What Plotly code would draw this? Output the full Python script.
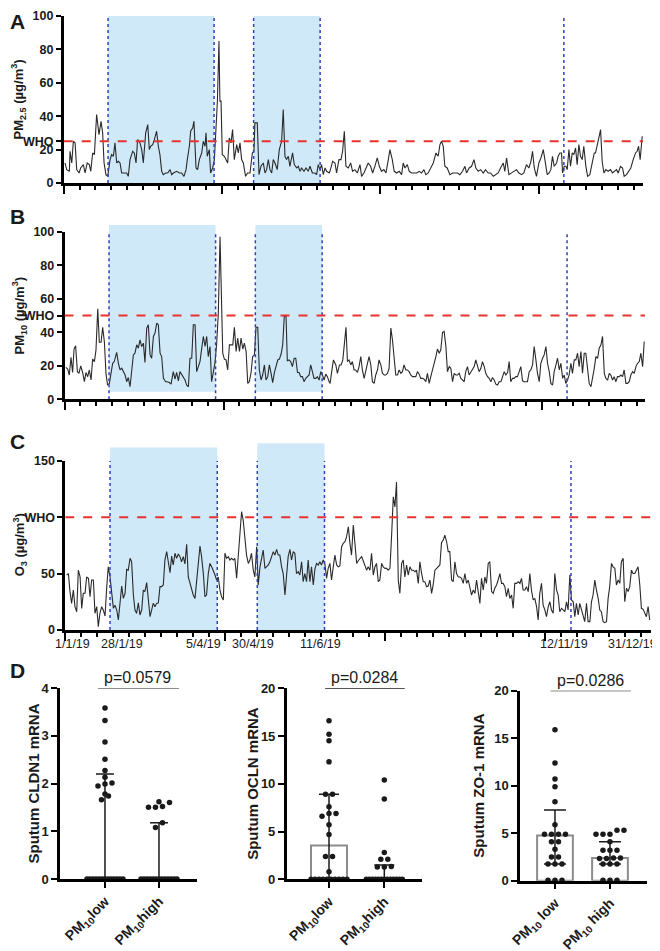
import numpy as np
import plotly.graph_objects as go


################################
######## DATA ########
################################

#### daily air quality 2019 (day of year, 1 = 1/1/19)
pm25_day = [
    0.8, 1.9, 3.6, 4.0, 5.1, 6.1, 7.2, 8.2, 9.7, 10.7,
    12.4, 13.5, 14.9, 16.2, 17.1, 18.3, 19.4, 20.8, 22.3, 23.6,
    24.6, 25.5, 26.7, 27.8, 29.3, 30.3, 31.4, 32.4, 33.5, 34.5,
    35.6, 36.6, 38.1, 39.8, 40.8, 41.9, 43.6, 44.6, 45.7, 46.7,
    48.2, 49.3, 50.3, 51.8, 53.1, 54.1, 54.9, 56.2, 57.3, 58.7,
    59.8, 60.8, 61.9, 62.9, 64.4, 65.7, 67.2, 68.2, 69.3, 71.4,
    73.1, 74.5, 76.0, 77.3, 78.1, 79.4, 80.2, 81.5, 82.3, 83.6,
    84.6, 85.7, 87.2, 88.2, 89.3, 89.9, 90.7, 92.0, 92.8, 94.1,
    95.2, 96.2, 97.1, 98.1, 98.7, 99.4, 100.2, 101.5, 102.5, 103.6,
    104.6, 105.7, 106.7, 107.8, 109.3, 110.3, 111.4, 112.4, 113.5, 114.9,
    116.2, 117.7, 119.2, 120.2, 120.8, 122.3, 123.4, 124.6, 126.1, 127.2,
    128.2, 129.3, 130.3, 131.4, 132.4, 133.5, 134.9, 136.2, 137.7, 138.7,
    139.8, 140.8, 141.9, 142.9, 144.6, 145.7, 147.2, 148.2, 149.3, 150.3,
    151.8, 153.1, 154.5, 155.6, 157.1, 158.7, 159.8, 160.8, 161.9, 162.9,
    164.0, 165.1, 166.1, 167.8,
    168.2, 169.9, 171.4, 172.4, 173.9, 175.2, 176.2, 177.3, 178.3, 179.8,
    181.3, 182.5, 184.0, 185.5, 187.2, 188.2, 189.7, 191.0, 192.4, 193.9,
    195.2, 196.6, 198.1, 199.4, 200.8, 202.3, 203.6, 205.1, 206.1, 207.6,
    208.8, 210.3, 212.0, 213.5, 214.5, 215.6, 217.1, 218.3, 219.8, 221.3,
    223.0, 224.6, 226.1, 227.6, 228.8, 230.3, 231.8, 233.5, 235.2, 236.6,
    237.7, 238.7, 239.8, 240.8, 242.3, 244.0, 245.7, 247.2, 248.8, 250.3,
    252.0, 253.5, 254.5, 256.2, 257.7, 259.2, 260.4, 261.9, 263.4, 265.1,
    266.5, 268.2, 269.7, 271.4, 272.8, 274.5, 276.0, 277.7, 278.7, 279.8,
    281.3, 283.0, 284.4, 286.1, 287.6, 289.3, 290.7, 292.4, 293.9, 295.2,
    296.2, 297.3, 298.7, 300.2, 301.5, 303.0, 304.0, 305.5, 306.7, 307.8,
    308.8, 309.9, 311.4, 312.4, 313.5, 314.5, 315.2, 316.2, 317.3, 318.1,
    319.2, 320.2, 321.3, 322.3, 323.4, 324.4, 325.5, 326.5, 327.6, 328.6,
    329.9, 331.0, 332.4, 333.9, 335.2, 336.0, 337.1, 338.1, 339.2, 340.2,
    341.3, 342.5, 344.0, 345.5, 346.7, 348.2, 349.3, 350.3, 351.8, 353.1,
    354.1, 355.6, 357.1, 358.3, 359.8, 361.3, 362.3, 363.2, 364.2, 365.5,
]
pm25_val = [
    12, 8, 7, 19, 12, 25, 24, 8, 6, 9,
    11, 6, 12, 11, 7, 18, 17, 41, 29, 37,
    30, 12, 5, 4, 14, 17, 16, 24, 12, 13,
    12, 6, 6, 6, 4, 14, 19, 18, 12, 26,
    24, 20, 12, 30, 35, 20, 22, 23, 26, 31,
    22, 17, 7, 5, 6, 6, 8, 5, 6, 7,
    6, 6, 4, 8, 14, 22, 31, 33, 37, 9,
    8, 14, 18, 25, 22, 30, 16, 20, 6, 9,
    14, 31, 49, 85, 49, 49, 17, 16, 14, 12,
    27, 24, 32, 14, 23, 18, 24, 14, 12, 4,
    6, 6, 18, 19, 36, 36, 5, 10, 12, 6,
    8, 14, 8, 6, 14, 12, 8, 20, 25, 44,
    16, 14, 16, 10, 18, 11, 9, 10, 7, 9,
    7, 9, 7, 10, 6, 6, 5, 11, 8, 11,
    5, 9, 7, 6,
    7, 13, 12, 6, 14, 14, 19, 31, 10, 9,
    12, 7, 8, 6, 11, 4, 6, 9, 12, 10,
    6, 10, 15, 10, 7, 8, 6, 14, 20, 14,
    7, 6, 7, 5, 12, 9, 11, 7, 6, 6,
    6, 7, 6, 8, 5, 6, 9, 12, 18, 16,
    23, 25, 22, 10, 9, 5, 6, 6, 6, 5,
    7, 10, 6, 9, 10, 14, 9, 7, 8, 6,
    8, 6, 6, 4, 5, 6, 9, 12, 7, 15,
    5, 6, 7, 8, 6, 5, 6, 11, 9, 13,
    19, 9, 4, 12, 15, 20, 14, 5, 6, 8,
    16, 10, 12, 16, 18, 18, 6, 10, 10, 8,
    20, 10, 18, 17, 21, 11, 23, 16, 14, 22,
    10, 4, 5, 11, 18, 18, 24, 27, 32, 13,
    6, 8, 7, 8, 6, 7, 8, 6, 10, 9,
    4, 5, 7, 9, 14, 18, 19, 22, 14, 28,
]

pm10_day = [
    0.9, 2.0, 3.0, 4.1, 5.1, 6.0, 7.0, 8.1, 9.1, 10.2,
    11.4, 12.5, 13.5, 14.6, 15.6, 16.7, 17.7, 18.8, 19.8, 20.9,
    21.9, 23.0, 24.0, 25.1, 26.1, 27.1, 28.2, 29.2, 30.3, 31.3,
    32.8, 33.9, 34.9, 36.0, 37.0, 38.1, 39.1, 40.1, 41.2, 42.2,
    43.3, 44.3, 45.4, 46.4, 47.5, 48.5, 49.6, 50.6, 51.7, 52.7,
    53.8, 54.8, 55.9, 56.9, 58.0, 59.0, 60.1, 61.1, 62.2, 63.6,
    64.7, 65.9, 67.0, 68.4, 69.5, 70.5, 71.6, 72.6, 73.7, 74.7,
    75.8, 76.8, 77.9, 78.9, 80.0, 81.0, 82.1, 83.1, 84.2, 85.2,
    86.3, 87.3, 88.4, 89.4, 90.4, 91.5, 92.5, 93.6, 94.6, 95.7,
    96.7, 97.8, 98.8, 99.5, 100.5, 101.6, 102.6, 103.7, 104.7, 105.8,
    106.8, 107.9, 108.9, 110.0, 111.0, 112.1, 113.1, 114.2, 115.2, 116.2,
    117.3, 118.3, 119.4, 120.4, 121.5, 122.5, 123.6, 124.6, 125.7, 126.7,
    127.8, 128.8, 129.9, 130.9, 132.0, 133.0, 134.1, 135.1, 136.2, 137.2,
    138.2, 139.3, 140.1, 141.2, 142.2, 143.3, 144.4, 145.4, 146.5, 147.5,
    148.5, 149.6, 150.6, 151.7, 152.7, 153.8, 154.8, 155.9, 156.9, 158.0,
    159.0, 160.1, 161.1, 162.2, 163.2, 164.3, 165.3, 166.4,
    167.0, 168.0, 169.1, 170.6, 171.6, 172.9, 173.9, 175.0, 176.0, 177.0,
    177.9, 178.9, 180.0, 181.0, 182.1, 183.1, 184.2, 185.2, 186.3, 187.3,
    188.4, 189.4, 190.5, 191.5, 192.6, 193.6, 194.7, 195.7, 196.8, 197.8,
    198.9, 199.9, 201.0, 202.0, 203.1, 204.1, 205.2, 206.2, 207.3, 208.3,
    209.4, 210.4, 211.5, 212.5, 213.5, 214.6, 215.6, 216.7, 217.7, 218.8,
    219.8, 220.9, 221.9, 223.0, 224.0, 225.1, 226.1, 227.2, 228.2, 229.3,
    230.3, 231.4, 232.4, 233.5, 234.5, 235.6, 236.6, 237.7, 238.7, 239.8,
    240.8, 241.9, 242.9, 244.0, 245.0, 246.1, 247.1, 248.2, 249.2, 250.3,
    251.3, 252.3, 253.4, 254.4, 255.5, 256.5, 257.6, 258.6, 259.7, 260.7,
    261.8, 262.8, 263.9, 264.9, 266.0, 267.0, 268.1, 269.1, 270.2, 271.2,
    272.3, 273.3, 274.4, 275.4, 276.5, 277.5, 278.6, 279.6, 280.6, 281.7,
    282.7, 283.8, 284.8, 285.9, 286.9, 288.0, 289.0, 290.1, 291.1, 292.2,
    293.2, 294.3, 295.3, 296.4, 297.4, 298.5, 299.5, 300.6, 301.6, 302.7,
    303.7, 304.8, 305.8, 306.9, 307.9, 309.0, 310.0, 311.1, 312.1, 313.2,
    314.2, 315.2, 316.3, 317.3, 318.4, 319.4, 320.5, 321.5, 322.6, 323.6,
    324.7, 325.7, 326.8, 327.8, 328.9, 329.9, 331.0, 332.0, 333.1, 334.1,
    335.2, 336.2, 337.3, 338.3, 339.4, 340.4, 341.5, 342.5, 343.5, 344.6,
    345.6, 346.7, 347.7, 348.8, 349.8, 350.9, 351.9, 353.0, 354.0, 355.1,
    356.1, 357.2, 358.2, 359.3, 360.3, 361.4, 362.4, 363.5, 364.5,
]
pm10_val = [
    19, 18, 14.5, 25, 16, 30, 32, 16.5, 15.5, 20,
    16, 10.5, 16, 13.5, 17.5, 11.5, 24, 22.5, 29.5, 54,
    34, 34, 43, 34, 15, 8.5, 9.5, 16.5, 21.5, 22.5,
    28, 21.5, 17.5, 18.5, 16, 14.5, 10.5, 13, 7.5, 16.5,
    26.5, 27.5, 32.5, 30.5, 35.5, 31.5, 33.5, 22, 42.5, 44.5,
    26.5, 24.5, 37.5, 39.5, 45.5, 44.5, 27.5, 25.5, 12.5, 10.5,
    10.5, 10, 9, 16.5, 12, 16, 11, 16.5, 14.5, 13.5,
    11.5, 8.5, 7.5, 24.5, 24.5, 44.5, 44.5, 16.5, 19.5, 22.5,
    30.5, 37.5, 31.5, 37.5, 25.5, 31.5, 10.5, 16.5, 21.5, 33.5,
    51, 97, 59, 27.5, 24, 23.5, 17.5, 32.5, 32.5, 32.5,
    43, 28.5, 36.5, 28.5, 36.5, 30, 33.5, 28.5, 9.5, 10.5,
    16, 25.5, 26.5, 43, 43, 17.5, 11.5, 14.5, 20.5, 11.5,
    13.5, 20.5, 15.5, 10, 16, 20.5, 23.5, 24, 27, 32.5,
    49.5, 49.5, 23, 23.5, 22.5, 19.5, 24.5, 24.5, 16, 16,
    13.5, 13.5, 10.5, 12.5, 13.5, 14.5, 20.5, 16, 12.5, 12.5,
    13.5, 11.5, 16.5, 14.5, 11.5, 15, 13.5, 10.5,
    9.5, 16.5, 23.5, 20.5, 15.5, 20.5, 20.5, 23.5, 35.5, 43,
    22.5, 23.5, 20.5, 22.5, 17.5, 17.5, 16, 19.5, 25.5, 17.5,
    12.5, 17.5, 21.5, 25.5, 20.5, 10.5, 9.5, 14.5, 17.5, 23.5,
    20.5, 15.5, 14.5, 14.5, 15.5, 18.5, 42.5, 35.5, 23.5, 14.5,
    14.5, 17.5, 15.5, 16.5, 20.5, 17.5, 17.5, 16.5, 14.5, 13.5,
    13.5, 13.5, 16.5, 15, 12.5, 12.5, 12, 10.5, 15.5, 9.5,
    13.5, 17.5, 20.5, 25.5, 30, 27.5, 29.5, 40, 40.5, 31.5,
    16.5, 19.5, 18.5, 10.5, 15.5, 14.5, 14.5, 15.5, 12.5, 11.5,
    10.5, 16.5, 19.5, 14.5, 16.5, 17.5, 19.5, 23.5, 20.5, 16.5,
    18.5, 22.5, 19.5, 15.5, 13.5, 12.5, 10.5, 13, 11.5, 9,
    8.5, 10.5, 10.5, 13.5, 16.5, 14.5, 16, 22.5, 10.5, 12.5,
    12.5, 13.5, 13.5, 16.5, 19.5, 11, 10.5, 10.5, 10.5, 16.5,
    17.5, 20.5, 31.5, 23.5, 15.5, 10.5, 21.5, 24.5, 26.5, 31.5,
    21.5, 16.5, 9.5, 8.5, 16.5, 20.5, 24.5, 17.5, 21.5, 12.5,
    14.5, 9.5, 11.5, 14.5, 21.5, 15.5, 23.5, 23.5, 27.5, 19.5,
    28.5, 15.5, 27.5, 27.5, 15.5, 9.5, 7.5, 12.5, 18.5, 25.5,
    24.5, 30.5, 32.5, 37.5, 15.5, 12.5, 11.5, 15.5, 14.5, 11.5,
    13.5, 10.5, 13.5, 13.5, 14.5, 13.5, 17.5, 9.5, 9.5, 10.5,
    14.5, 16.5, 15.5, 19.5, 21.5, 22.5, 27.5, 19.5, 34.5,
]

o3_day = [
    0.9, 2.0, 3.0, 4.0, 5.1, 6.1, 7.2, 8.2, 9.3, 10.3,
    11.3, 12.4, 13.4, 14.5, 15.5, 16.5, 17.6, 18.6, 19.7, 20.7,
    21.7, 22.8, 23.8, 24.9, 25.9, 26.9, 28.0, 29.0, 30.1, 31.1,
    32.2, 33.2, 34.2, 35.3, 36.3, 37.4, 38.4, 39.4, 40.5, 41.5,
    42.6, 43.6, 44.6, 45.7, 46.7, 47.8, 48.8, 49.8, 50.9, 51.9,
    53.0, 54.0, 55.0, 56.1, 57.1, 58.2, 59.2, 60.2, 61.3, 62.3,
    63.4, 64.4, 65.5, 66.5, 67.5, 68.6, 69.6, 70.7, 71.7, 72.7,
    73.8, 74.8, 75.9, 76.9, 77.9, 79.0, 80.0, 81.1, 82.1, 83.1,
    84.2, 85.2, 86.3, 87.3, 88.3, 89.4, 90.4, 91.5, 92.5, 93.6,
    94.6, 95.6, 96.7, 97.7, 98.8, 99.8, 100.8, 101.9, 102.9, 104.0,
    105.0, 106.0, 107.1, 108.1, 109.2, 110.2, 111.2, 112.3, 113.3, 114.4,
    115.4, 116.4, 117.5, 118.5, 119.6, 120.6, 121.7, 122.7, 123.7, 124.8,
    125.8, 126.9, 127.9, 128.9, 130.0, 131.0, 132.1, 133.1, 134.1, 135.2,
    136.2, 137.3, 138.3, 139.3, 140.4, 141.4, 142.5, 143.5, 144.5, 145.6,
    146.6, 147.7, 148.7, 149.7, 150.8, 151.8, 152.9, 153.9, 155.0, 156.0,
    157.0, 158.1, 159.1, 160.1, 161.2, 162.2, 163.3, 164.3,
    165.4, 166.4, 167.5, 168.5, 169.6, 170.6, 171.6, 172.7, 173.7, 174.8,
    175.8, 176.9, 177.9, 178.9, 180.0, 181.0, 182.1, 183.1, 184.1, 185.2,
    186.2, 187.3, 188.3, 189.3, 190.4, 191.4, 192.5, 193.5, 194.5, 195.6,
    196.6, 197.7, 198.7, 199.8, 200.8, 201.8, 202.9, 203.9, 205.0, 206.0,
    207.0, 208.1, 209.1, 210.2, 211.2, 212.2, 213.3, 214.3, 215.4, 216.4,
    217.4, 218.5, 219.5, 220.6, 221.6, 222.7, 223.7, 224.7, 225.8, 226.8,
    227.9, 228.9, 229.9, 231.0, 232.0, 233.1, 234.1, 235.1, 236.2, 237.2,
    238.3, 239.3, 240.3, 241.4, 242.4, 243.5, 244.5, 245.6, 246.6, 247.6,
    248.7, 249.7, 250.8, 251.8, 252.8, 253.9, 254.9, 256.0, 257.0, 258.0,
    259.1, 260.1, 261.2, 262.2, 263.2, 264.3, 265.3, 266.4, 267.4, 268.4,
    269.5, 270.5, 271.6, 272.6, 273.6, 274.7, 275.7, 276.8, 277.8, 278.9,
    279.9, 280.9, 282.0, 283.0, 284.1, 285.1, 286.1, 287.2, 288.2, 289.3,
    290.3, 291.3, 292.4, 293.4, 294.5, 295.5, 296.5, 297.6, 298.6, 299.7,
    300.7, 301.8, 302.8, 303.8, 304.9, 305.9, 307.0, 308.0, 309.0, 310.1,
    311.1, 312.2, 313.2, 314.2, 315.3, 316.3, 317.4, 318.4, 319.4, 320.5,
    321.5, 322.6, 323.6, 324.6, 325.7, 326.7, 327.8, 328.8, 329.8, 330.9,
    331.9, 333.0, 334.0, 335.0, 336.1, 337.1, 338.2, 339.2, 340.2, 341.3,
    342.3, 343.4, 344.4, 345.5, 346.5, 347.5, 348.6, 349.6, 350.7, 351.7,
    352.7, 353.8, 354.8, 355.9, 356.9, 357.9, 359.0, 360.0, 361.1, 362.1,
    363.1, 364.2, 365.2,
]
o3_val = [
    48.7, 50, 34, 23.6, 35.4, 20.7, 16.2, 53, 47, 19,
    32.5, 32.5, 47, 45.8, 29.5, 44.3, 44.3, 14.8, 20.7, 3,
    14.8, 20.7, 17.7, 12.4, 37, 56, 47, 32.5, 19.2, 22,
    17.7, 8.9, 23.6, 39, 28, 32.5, 53.7, 53, 63.5, 60.5,
    31, 17.7, 14.8, 24, 13.3, 17.7, 35.4, 34, 42, 29.5,
    11.8, 17.7, 23.6, 20.7, 23.6, 24, 38.4, 38.4, 39.9, 62,
    69.4, 60.5, 50.8, 65.5, 57.6, 68, 63.5, 67.3, 65, 60.5,
    65, 58.5, 75.9, 47, 41.3, 34, 31, 28, 44.3, 56,
    74.4, 65, 50, 29.5, 31, 50, 59, 56, 53, 48.7,
    44.3, 47, 35.4, 29.5, 26.6, 68, 63.5, 65, 62, 63.5,
    62, 63.5, 45.8, 65, 81, 104.8, 97.4, 78, 66.4, 59,
    62, 68, 53, 47, 73.8, 39.9, 56, 63.5, 70.9, 54.6,
    56, 57.6, 60.5, 65, 69.4, 66.4, 71.4, 66.4, 66.4, 56,
    50, 31, 53, 65, 71.4, 62, 69.4, 68, 50, 51.7,
    48.7, 60.5, 42.8, 50, 42.8, 62, 42.8, 56, 39.9, 53.7,
    59, 57.6, 60.5, 57.6, 62, 59, 45.8, 54.6,
    59, 44.3, 56, 66.4, 57.6, 56, 56.7, 73.8, 76.8, 78.2,
    82.7, 91.5, 76.8, 66.4, 93, 76.8, 59, 61.4, 63.5, 65,
    61.4, 57.6, 53, 56, 53, 68, 48.7, 56, 59, 42.8,
    44.3, 59, 56, 54.6, 54.6, 53, 54.6, 82.7, 118, 109,
    131, 44.3, 32.5, 59, 62, 47, 57.6, 48.7, 56, 53,
    53, 51.7, 53, 41.3, 60.5, 50, 42.8, 42.8, 38.4, 39,
    44.3, 32.5, 39.9, 53, 54.6, 56, 57.6, 77.4, 79.7, 84.1,
    78.2, 69.4, 69.4, 44.3, 42.8, 60.5, 50, 47, 47, 45.8,
    41.3, 50, 41.3, 44.3, 38.4, 31, 35.4, 32.5, 44.3, 35.4,
    23.6, 45.8, 35.4, 47, 41.3, 59, 60.5, 34, 32.5, 37,
    39.9, 44.3, 50, 41.3, 41.3, 38.4, 29.5, 37, 28, 31,
    19.2, 41.3, 41.3, 42.8, 41.3, 45.8, 35.4, 35.4, 38.4, 34,
    50, 35.4, 26.6, 28, 20.7, 8.9, 32.5, 41.3, 22, 17.7,
    11.8, 20.7, 25, 17.7, 14.8, 50, 35.4, 31, 16.2, 19.2,
    17.7, 16.2, 25, 17.7, 48.7, 26.6, 25, 11.8, 23.6, 13.3,
    23.6, 17.7, 13.3, 7.4, 23.6, 7.4, 7.4, 25, 31, 44.3,
    35.4, 28, 17.7, 16.2, 7.4, 6.5, 7.4, 28, 38.4, 59,
    56, 54.6, 39.9, 44.3, 41.3, 60.5, 63.5, 25, 37, 34,
    38.4, 53, 50, 50, 53, 56, 39.9, 19.2, 18.3, 14.8,
    11.8, 20.7, 8.9,
]

assert len(pm25_day) == len(pm25_val)
assert len(pm10_day) == len(pm10_val)
assert len(o3_day) == len(o3_val)

who_pm25 = 25
who_pm10 = 50
who_o3 = 100

period_start = [28, 120]
period_end = [95, 162]
cutoff_days = [28, 95, 120, 162, 316]

date_tick_days = [1, 28, 95, 120, 162, 316, 365]
date_tick_text = ['1/1/19', '28/1/19', '5/4/19', '30/4/19', '11/6/19', '12/11/19', '31/12/19']

#### sputum mRNA, PM10 low / high days
group_text_a = ['PM<sub>10</sub>low', 'PM<sub>10</sub>high']
group_text_b = ['PM<sub>10</sub> low', 'PM<sub>10</sub> high']

cldn1_low = [3.58, 3.32, 2.87, 2.51, 2.27, 2.13, 2.01, 1.99, 1.95, 1.78, 1.74, 1.66,
             0, 0, 0, 0, 0, 0, 0, 0, 0, 0, 0, 0, 0]
cldn1_high = [1.62, 1.6, 1.52, 1.5, 1.5, 1.18, 1.08,
              0, 0, 0, 0, 0, 0, 0, 0, 0, 0, 0, 0, 0]
cldn1_median = [0, 0]
cldn1_q1 = [0, 0]
cldn1_q3 = [2.2, 1.18]

ocln_low = [16.6, 15.2, 14.5, 12.3, 8.9, 8.9, 7.6, 6.9, 6.9, 6.6, 5.7, 4.7, 2.4, 2.4, 0.8,
            0, 0, 0, 0, 0, 0, 0, 0, 0, 0]
ocln_high = [10.4, 8.4, 2.8, 2.1, 2.1, 1.35, 1.3, 1.3,
             0, 0, 0, 0, 0, 0, 0, 0, 0, 0, 0, 0, 0]
ocln_median = [3.55, 0]
ocln_q1 = [0, 0]
ocln_q3 = [8.9, 1.5]

zo1_low = [15.9, 12.4, 10.7, 9.9, 8.3, 5.9, 4.9, 4.9, 4.9, 4.9, 4.1, 4.1, 3.3, 2.5, 2.5,
           1.75, 1.75, 1.75, 0.05, 0.05, 0.05]
zo1_high = [5.3, 5.3, 4.9, 4.9, 4.9, 4.1, 3.2, 3.2, 3.2, 2.4, 2.4, 2.35, 2.35,
            1.75, 1.75, 1.75, 0.05, 0.05, 0.05]
zo1_median = [4.75, 2.4]
zo1_q1 = [1.75, 1.75]
zo1_q3 = [7.45, 4.1]

p_text = ['p=0.0579', 'p=0.0284', 'p=0.0286']


################################
######## HELPERS ########
################################

W, H = 660, 951
OFF = 8   # the page body keeps an 8px margin round the figure
FONT = 'Liberation Sans, Arial, sans-serif'


def fx(p):
    return (p - OFF) / W


def fy(p):
    return 1 - (p - OFF) / H


def to_paper(v, dom, rng):
    return dom[0] + (v - rng[0]) / (rng[1] - rng[0]) * (dom[1] - dom[0])


def swarm(values, px_per_unit, px_per_cat, row_tol=5, step=7, max_half=18):
    values = np.asarray(values, dtype=float)
    order = np.argsort(values)
    rows = []
    for i in order:
        if rows and (values[i] - values[rows[-1][0]]) * px_per_unit <= row_tol:
            rows[-1].append(i)
        else:
            rows.append([i])
    offsets = np.zeros(len(values))
    for row in rows:
        n = len(row)
        sp = step if n < 2 else min(step, 2 * max_half / (n - 1))
        for k, i in enumerate(row):
            offsets[i] = (k - (n - 1) / 2) * sp / px_per_cat
    return offsets


fig = go.Figure()
layout = {}
shapes = []
annotations = []

SHADE = '#cfe9f8'
DOT_BLUE = '#3040b8'
WHO_RED = '#e8322d'


################################
######## PANELS A-C ########
################################

ts_panels = [
    dict(days=pm25_day, vals=pm25_val, who=who_pm25,
         title='<b>PM<sub>2.5</sub> (µg/m<sup>3</sup>)</b>',
         tickvals=[0, 20, who_pm25, 40, 60, 80, 100],
         ticktext=['0', '20', 'WHO', '40', '60', '80', '100'],
         xdom=(63.7, 643), xr=[0, 366], ydom=(183, 16), yr=[0, 100],
         shade_y=[(0, 100), (0, 100)], vtop=100, title_x=19, letter='A', letter_y=21),
    dict(days=pm10_day, vals=pm10_val, who=who_pm10,
         title='<b>PM<sub>10</sub> (µg/m<sup>3</sup>)</b>',
         tickvals=[0, 20, 40, who_pm10, 60, 80, 100],
         ticktext=['0', '20', '40', 'WHO', '60', '80', '100'],
         xdom=(64.5, 645), xr=[0, 365], ydom=(399.3, 231.7), yr=[0, 100],
         shade_y=[(4.5, 104), (4.5, 104)], vtop=100, title_x=19, letter='B', letter_y=217),
    dict(days=o3_day, vals=o3_val, who=who_o3,
         title='<b>O<sub>3</sub> (µg/m<sup>3</sup>)</b>',
         tickvals=[0, 50, who_o3, 150],
         ticktext=['0', '50', 'WHO', '150'],
         xdom=(65.2, 651), xr=[0, 366], ydom=(630, 460.7), yr=[0, 150],
         shade_y=[(0, 161.8), (0, 165.4)], vtop=150, title_x=20, letter='C', letter_y=441),
]

for i, p in enumerate(ts_panels, start=1):

    sfx = '' if i == 1 else str(i)
    xid, yid = 'x' + sfx, 'y' + sfx
    xdom = [fx(p['xdom'][0]), fx(p['xdom'][1])]
    ydom = [fy(p['ydom'][0]), fy(p['ydom'][1])]

    fig.add_trace(go.Scatter(
        x=p['days'], y=p['vals'], mode='lines',
        line=dict(color='#2a2a2a', width=1.1),
        xaxis=xid, yaxis=yid, showlegend=False, hoverinfo='skip'
    ))

    layout['xaxis' + sfx] = dict(
        domain=xdom, range=p['xr'], anchor=yid, automargin=False,
        showline=True, linecolor='black', linewidth=2.5,
        ticks='outside', tickmode='linear', tick0=0, dtick=100,
        ticklen=8, tickwidth=2, tickcolor='black',
        showticklabels=False, showgrid=False, zeroline=False,
        minor=dict(ticks='outside', tickmode='linear', tick0=0, dtick=10,
                   ticklen=4, tickwidth=2, tickcolor='black', showgrid=False),
    )
    layout['yaxis' + sfx] = dict(
        domain=ydom, range=p['yr'], anchor=xid, automargin=False,
        showline=True, linecolor='black', linewidth=2.5,
        ticks='outside', ticklen=5, tickwidth=2, tickcolor='black',
        tickmode='array', tickvals=p['tickvals'], ticktext=p['ticktext'],
        tickfont=dict(family=FONT, size=12.5, color='#1a1a1a', weight='bold'),
        showgrid=False, zeroline=False,
    )

    #### shaded periods
    for (d0, d1), (s0, s1) in zip(zip(period_start, period_end), p['shade_y']):
        shapes.append(dict(
            type='rect', xref=xid, yref='paper', x0=d0, x1=d1,
            y0=to_paper(s0, ydom, p['yr']), y1=to_paper(s1, ydom, p['yr']),
            fillcolor=SHADE, line=dict(width=0), layer='below'
        ))

    #### dotted cut-off lines
    for d in cutoff_days:
        shapes.append(dict(
            type='line', xref=xid, yref=yid, x0=d, x1=d, y0=0, y1=p['vtop'],
            line=dict(color=DOT_BLUE, width=1.5, dash='dot')
        ))

    #### WHO limit
    shapes.append(dict(
        type='line', xref=xid, yref=yid, x0=p['xr'][0], x1=p['xr'][1], y0=p['who'], y1=p['who'],
        line=dict(color=WHO_RED, width=2, dash='dash')
    ))

    annotations.append(dict(
        text=p['title'], textangle=-90, xref='paper', yref='paper',
        x=fx(p['title_x']), y=sum(ydom) / 2, xanchor='center', yanchor='middle',
        showarrow=False, font=dict(family=FONT, size=13, color='#1a1a1a')
    ))
    annotations.append(dict(
        text='<b>' + p['letter'] + '</b>', xref='paper', yref='paper',
        x=fx(17), y=fy(p['letter_y']), xanchor='center', yanchor='middle',
        showarrow=False, font=dict(family=FONT, size=21, color='#1a1a1a')
    ))

#### date labels under panel C
date_shift = [6, 12, -14, -4, -4, -7, -17]
for d, t, s in zip(date_tick_days, date_tick_text, date_shift):
    annotations.append(dict(
        text=t, xref='x3', yref='paper', x=d, y=fy(635), xanchor='center', yanchor='top',
        xshift=s, showarrow=False, font=dict(family=FONT, size=12.5, color='#1a1a1a')
    ))


################################
######## PANEL D ########
################################

d_panels = [
    dict(low=cldn1_low, high=cldn1_high, med=cldn1_median, q1=cldn1_q1, q3=cldn1_q3,
         p=p_text[0], title='<b>Sputum CLDN1 mRNA</b>', labels=group_text_a,
         yr=[0, 4], dtick=1, xdom=(60, 197), xr=[-0.833, 1.704], ydom=(879, 688),
         cap=9, title_x=33, pline=(-0.13, 1.37), ptext=0.61),
    dict(low=ocln_low, high=ocln_high, med=ocln_median, q1=ocln_q1, q3=ocln_q3,
         p=p_text[1], title='<b>Sputum OCLN mRNA</b>', labels=group_text_a,
         yr=[0, 20], dtick=5, xdom=(286.7, 421.7), xr=[-0.765, 1.676], ydom=(879.3, 688.3),
         cap=10, title_x=253, pline=(-0.07, 1.37), ptext=0.65),
    dict(low=zo1_low, high=zo1_high, med=zo1_median, q1=zo1_q1, q3=zo1_q3,
         p=p_text[2], title='<b>Sputum ZO-1 mRNA</b>', labels=group_text_b,
         yr=[0, 20], dtick=5, xdom=(520, 647), xr=[-0.636, 1.673], ydom=(880.7, 690.7),
         cap=11, title_x=479, pline=(-0.08, 1.38), ptext=0.64),
]

for j, p in enumerate(d_panels, start=4):

    sfx = str(j)
    xid, yid = 'x' + sfx, 'y' + sfx
    xdom = [fx(p['xdom'][0]), fx(p['xdom'][1])]
    ydom = [fy(p['ydom'][0]), fy(p['ydom'][1])]

    px_unit = (p['ydom'][0] - p['ydom'][1]) / (p['yr'][1] - p['yr'][0])
    px_cat = (p['xdom'][1] - p['xdom'][0]) / (p['xr'][1] - p['xr'][0])

    med = np.array(p['med'])
    fig.add_trace(go.Bar(
        x=[0, 1], y=med, width=0.65,
        marker=dict(color='white', line=dict(color='#8c8c8c', width=2)),
        error_y=dict(type='data', symmetric=False,
                     array=np.array(p['q3']) - med, arrayminus=med - np.array(p['q1']),
                     color='#1a1a1a', thickness=1.5, width=p['cap']),
        xaxis=xid, yaxis=yid, showlegend=False, hoverinfo='skip'
    ))

    for cat, vals in enumerate([p['low'], p['high']]):
        off = swarm(vals, px_unit, px_cat)
        fig.add_trace(go.Scatter(
            x=cat + off, y=vals, mode='markers',
            marker=dict(color='#1a1a1a', size=5.5),
            xaxis=xid, yaxis=yid, showlegend=False, hoverinfo='skip', cliponaxis=False
        ))

    layout['xaxis' + sfx] = dict(
        domain=xdom, range=p['xr'], anchor=yid, automargin=False,
        showline=True, linecolor='black', linewidth=2.5,
        ticks='outside', ticklen=6, tickwidth=2, tickcolor='black',
        tickmode='array', tickvals=[0, 1], ticktext=p['labels'], tickangle=-45,
        tickfont=dict(family=FONT, size=14, color='#1a1a1a', weight='bold'),
        showgrid=False, zeroline=False,
    )
    layout['yaxis' + sfx] = dict(
        domain=ydom, range=p['yr'], anchor=xid, automargin=False,
        showline=True, linecolor='black', linewidth=2.5,
        ticks='outside', ticklen=6, tickwidth=2, tickcolor='black',
        tickmode='linear', tick0=0, dtick=p['dtick'],
        tickfont=dict(family=FONT, size=13, color='#1a1a1a', weight='bold'),
        showgrid=False, zeroline=False,
    )

    #### significance bar
    shapes.append(dict(
        type='line', xref=xid, yref=yid, x0=p['pline'][0], x1=p['pline'][1],
        y0=p['yr'][1], y1=p['yr'][1], line=dict(color='#1a1a1a', width=1.2)
    ))
    annotations.append(dict(
        text=p['p'], xref=xid, yref=yid, x=p['ptext'], y=p['yr'][1],
        xanchor='center', yanchor='bottom', yshift=0, showarrow=False,
        font=dict(family=FONT, size=16, color='#1a1a1a')
    ))
    annotations.append(dict(
        text=p['title'], textangle=-90, xref='paper', yref='paper',
        x=fx(p['title_x']), y=sum(ydom) / 2, xanchor='center', yanchor='middle',
        showarrow=False, font=dict(family=FONT, size=15, color='#1a1a1a')
    ))

annotations.append(dict(
    text='<b>D</b>', xref='paper', yref='paper', x=fx(17), y=fy(670),
    xanchor='center', yanchor='middle', showarrow=False,
    font=dict(family=FONT, size=21, color='#1a1a1a')
))


fig.update_layout(
    **layout,
    width=W, height=H, autosize=False,
    margin=dict(l=0, r=0, t=0, b=0),
    paper_bgcolor='white', plot_bgcolor='rgba(0,0,0,0)',
    shapes=shapes, annotations=annotations,
    showlegend=False, bargap=0.35,
    font=dict(family=FONT, color='#1a1a1a'),
)

fig.write_html("out.html")
